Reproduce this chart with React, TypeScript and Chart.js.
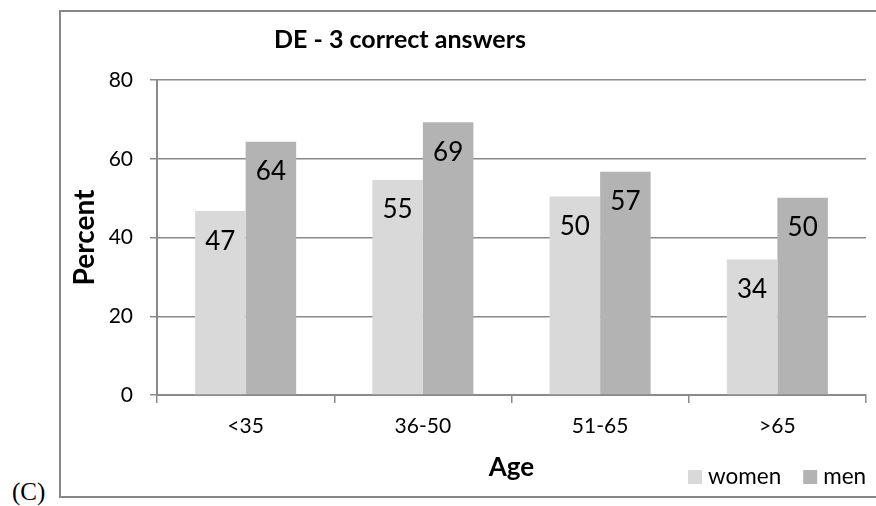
import React, { useEffect, useRef } from "react";
import { Chart, registerables } from "chart.js";

Chart.register(...registerables);

const categories = ["<35", "36-50", "51-65", ">65"];
const seriesNames = ["women", "men"];
const womenValues = [46.7, 54.6, 50.4, 34.4];
const menValues = [64.3, 69.3, 56.7, 50.1];
const seriesColors = ["#d9d9d9", "#b3b3b3"];
const titleText = "DE - 3 correct answers";
const xTitle = "Age";
const yTitle = "Percent";
const yMax = 80;
const yStep = 20;

const FONT = "Lato, 'Open Sans', sans-serif";
const GRID = "#8a8a8a";

const titlePlugin = {
  id: "customTitle",
  afterDraw(chart: any) {
    const ctx = chart.ctx;
    ctx.save();
    ctx.font = `bold 25px ${FONT}`;
    ctx.fillStyle = "#000";
    ctx.textAlign = "center";
    ctx.textBaseline = "middle";
    ctx.fillText(titleText, 400, 40);
    ctx.restore();
  },
};

const valueLabelPlugin = {
  id: "valueLabels",
  afterDatasetsDraw(chart: any) {
    const ctx = chart.ctx;
    ctx.save();
    ctx.font = `26px ${FONT}`;
    ctx.fillStyle = "#000";
    ctx.textAlign = "center";
    ctx.textBaseline = "middle";
    chart.data.datasets.forEach((ds: any, di: number) => {
      const meta = chart.getDatasetMeta(di);
      meta.data.forEach((bar: any, i: number) => {
        ctx.fillText(String(Math.round(ds.data[i])), bar.x, bar.y + 30);
      });
    });
    ctx.restore();
  },
};

const legendPlugin = {
  id: "customLegend",
  afterDraw(chart: any) {
    const ctx = chart.ctx;
    ctx.save();
    ctx.font = `22.5px ${FONT}`;
    ctx.textBaseline = "middle";
    ctx.textAlign = "left";
    let x = 688;
    const cy = 477;
    chart.data.datasets.forEach((ds: any) => {
      ctx.fillStyle = ds.backgroundColor;
      ctx.fillRect(x, cy - 7, 14, 14);
      ctx.fillStyle = "#000";
      ctx.fillText(ds.label, x + 20, cy);
      x += 20 + ctx.measureText(ds.label).width + 22;
    });
    ctx.restore();
  },
};

export default function App() {
  const ref = useRef<HTMLCanvasElement | null>(null);

  useEffect(() => {
    if (!ref.current) return;
    const chart = new Chart(ref.current, {
      type: "bar",
      data: {
        labels: categories,
        datasets: [
          {
            label: seriesNames[0],
            data: womenValues,
            backgroundColor: seriesColors[0],
            categoryPercentage: 0.57,
            barPercentage: 1,
          },
          {
            label: seriesNames[1],
            data: menValues,
            backgroundColor: seriesColors[1],
            categoryPercentage: 0.57,
            barPercentage: 1,
          },
        ],
      },
      options: {
        animation: false,
        responsive: false,
        maintainAspectRatio: false,
        layout: { padding: { left: 60, top: 80, right: 10, bottom: 20 } },
        plugins: {
          legend: { display: false },
          title: { display: false },
          tooltip: { enabled: false },
        },
        scales: {
          x: {
            afterFit: (s: any) => {
              s.height = 91;
            },
            grid: {
              display: true,
              drawOnChartArea: false,
              drawTicks: true,
              tickLength: 8,
              color: GRID,
              lineWidth: 1.5,
              offset: true,
            },
            border: { display: true, color: GRID, width: 2 },
            ticks: {
              color: "#000",
              font: { family: FONT, size: 21 },
              padding: 11,
              maxRotation: 0,
            },
            title: {
              display: true,
              text: xTitle,
              color: "#000",
              font: { family: FONT, size: 26, weight: "bold" },
              padding: { top: 0, bottom: 3 },
            },
          },
          y: {
            min: 0,
            max: yMax,
            afterFit: (s: any) => {
              s.width = 97;
            },
            grid: {
              color: GRID,
              lineWidth: 1.5,
              drawTicks: true,
              tickLength: 7,
            },
            border: { display: true, color: GRID, width: 2 },
            ticks: {
              stepSize: yStep,
              color: "#000",
              font: { family: FONT, size: 21 },
              padding: 17,
            },
            title: {
              display: true,
              text: yTitle,
              color: "#000",
              font: { family: FONT, size: 28, weight: "bold" },
              padding: { top: 8, bottom: 0 },
            },
          },
        },
      },
      plugins: [valueLabelPlugin, titlePlugin, legendPlugin],
    });
    return () => chart.destroy();
  }, []);

  return (
    <div
      style={{
        position: "absolute",
        left: 0,
        top: 0,
        width: 876,
        height: 506,
        overflow: "hidden",
        background: "#fff",
      }}
    >
      <div
        style={{
          position: "absolute",
          left: 59,
          top: 10,
          width: 900,
          height: 484,
          border: "2px solid #878787",
        }}
      />
      <span
        style={{
          position: "absolute",
          left: 12,
          top: 480,
          fontFamily: "'Liberation Serif', 'Times New Roman', serif",
          fontSize: 25,
          lineHeight: "24px",
          color: "#000",
        }}
      >
        (C)
      </span>
      <canvas
        ref={ref}
        width={876}
        height={506}
        style={{ position: "absolute", left: 0, top: 0, width: 876, height: 506 }}
      />
    </div>
  );
}
